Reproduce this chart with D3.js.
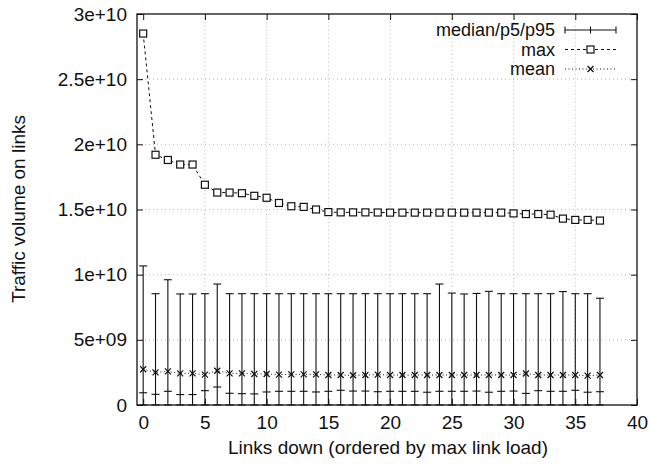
<!DOCTYPE html>
<html><head><meta charset="utf-8">
<script src="https://cdn.jsdelivr.net/npm/d3@7"></script>
<style>
html,body{margin:0;padding:0;background:#fff;}
text{font-family:"Liberation Sans",Arial,Helvetica,sans-serif;fill:#111;}
</style></head>
<body>
<svg id="chart" width="650" height="464"></svg>
<script>
const links = d3.range(0, 38);
const maxLoad = [2.85,1.92,1.88,1.845,1.845,1.69,1.63,1.63,1.625,1.605,1.59,1.55,1.525,1.52,1.50,1.48,1.478,1.478,1.478,1.477,
  1.476,1.476,1.476,1.476,1.476,1.476,1.476,1.476,1.476,1.476,1.47,1.465,1.465,1.46,1.43,1.42,1.42,1.415].map(v=>v*1e10);
const meanLoad = [2.74,2.5,2.58,2.43,2.43,2.33,2.63,2.43,2.43,2.38,2.38,2.33,2.35,2.35,2.35,2.3,2.3,2.28,2.3,2.33,
  2.3,2.3,2.3,2.3,2.3,2.3,2.3,2.3,2.3,2.3,2.3,2.42,2.3,2.3,2.3,2.3,2.25,2.3].map(v=>v*1e9);
const p95Load = [10.67,8.54,9.61,8.52,8.52,8.54,9.28,8.54,8.54,8.54,8.54,8.54,8.54,8.54,8.54,8.54,8.54,8.54,8.54,8.54,
  8.54,8.54,8.54,8.54,9.28,8.59,8.52,8.56,8.72,8.54,8.54,8.54,8.54,8.54,8.7,8.54,8.54,8.19].map(v=>v*1e9);
const medianLoad = [0.94,0.82,1.05,0.8,0.8,1.1,1.38,0.9,0.87,0.85,1.0,1.05,1.05,1.05,1.0,1.05,1.13,1.07,1.07,1.02,
  1.05,1.05,1.05,0.98,1.05,1.05,1.05,1.07,0.98,1.05,1.07,0.89,1.1,1.05,1.05,1.13,0.98,1.02].map(v=>v*1e9);
const p5Load = links.map(()=>0);
const xTicks = [0,5,10,15,20,25,30,35,40];
const yTicks = [0,5e9,1e10,1.5e10,2e10,2.5e10,3e10];
const yTickLabels = ["0","5e+09","1e+10","1.5e+10","2e+10","2.5e+10","3e+10"];
const legendLabels = ["median/p5/p95","max","mean"];
const xTitle = "Links down (ordered by max link load)";
const yTitle = "Traffic volume on links";

const L=137, R=637, T=14, B=405;
const svg = d3.select("#chart");
const x = d3.scaleLinear().domain([-0.5,40]).range([L,R]);
const y = d3.scaleLinear().domain([0,3e10]).range([B,T]);

// grid
const grid = svg.append("g").attr("stroke","#999").attr("stroke-width",0.7).attr("stroke-dasharray","1,3");
grid.selectAll(".gx").data(xTicks.filter(t=>t>0&&t<40)).join("line")
  .attr("x1",d=>x(d)).attr("x2",d=>x(d)).attr("y1",T).attr("y2",B);
grid.selectAll(".gy").data(yTicks.filter(t=>t>0&&t<3e10)).join("line")
  .attr("y1",d=>y(d)).attr("y2",d=>y(d)).attr("x1",L).attr("x2",R);

// axes (ticks inward, mirrored)
const fs = 19;
const axB = svg.append("g").attr("transform",`translate(0,${B})`)
  .call(d3.axisBottom(x).tickValues(xTicks).tickSizeInner(-6).tickSizeOuter(0).tickPadding(11));
const axT = svg.append("g").attr("transform",`translate(0,${T})`)
  .call(d3.axisTop(x).tickValues(xTicks).tickSizeInner(-6).tickSizeOuter(0).tickFormat(""));
const axL = svg.append("g").attr("transform",`translate(${L},0)`)
  .call(d3.axisLeft(y).tickValues(yTicks).tickSizeInner(-6).tickSizeOuter(0).tickPadding(10)
    .tickFormat((d,i)=>yTickLabels[i]));
const axR = svg.append("g").attr("transform",`translate(${R},0)`)
  .call(d3.axisRight(y).tickValues(yTicks).tickSizeInner(-6).tickSizeOuter(0).tickFormat(""));
[axB,axT,axL,axR].forEach(a=>{
  a.select(".domain").remove();
  a.selectAll("line").attr("stroke","#111").attr("stroke-width",1);
  a.selectAll("text").attr("font-size",fs).attr("font-family","Liberation Sans, Arial, sans-serif").attr("fill","#111");
});
axB.selectAll("text").attr("dy","0.71em");
svg.append("rect").attr("x",L).attr("y",T).attr("width",R-L).attr("height",B-T)
  .attr("fill","none").attr("stroke","#111").attr("stroke-width",1.3);

// error bars
const cap = 4;
const eb = svg.append("g").attr("stroke","#111").attr("stroke-width",1.1);
links.forEach((d,i)=>{
  const cx = x(d);
  eb.append("line").attr("x1",cx).attr("x2",cx).attr("y1",y(p5Load[i])).attr("y2",y(p95Load[i]));
  eb.append("line").attr("x1",cx-cap).attr("x2",cx+cap).attr("y1",y(p95Load[i])).attr("y2",y(p95Load[i]));
  eb.append("line").attr("x1",cx-cap).attr("x2",cx+cap).attr("y1",y(p5Load[i])).attr("y2",y(p5Load[i]));
  eb.append("line").attr("x1",cx-cap).attr("x2",cx+cap).attr("y1",y(medianLoad[i])).attr("y2",y(medianLoad[i]));
});

// max line
const line = d3.line().x((d,i)=>x(links[i])).y(d=>y(d));
svg.append("path").datum(maxLoad).attr("d",line).attr("fill","none")
  .attr("stroke","#111").attr("stroke-width",1).attr("stroke-dasharray","3,3");
svg.append("g").selectAll("rect").data(maxLoad).join("rect")
  .attr("x",(d,i)=>x(links[i])-3.5).attr("y",d=>y(d)-3.5).attr("width",7).attr("height",7)
  .attr("fill","#fff").attr("stroke","#111").attr("stroke-width",1.2);

// mean line
svg.append("path").datum(meanLoad).attr("d",line).attr("fill","none")
  .attr("stroke","#111").attr("stroke-width",1).attr("stroke-dasharray","1,2.5");
const xm = svg.append("g").attr("stroke","#111").attr("stroke-width",1.2);
meanLoad.forEach((d,i)=>{
  const cx=x(links[i]), cy=y(d), s=3;
  xm.append("line").attr("x1",cx-s).attr("x2",cx+s).attr("y1",cy-s).attr("y2",cy+s);
  xm.append("line").attr("x1",cx-s).attr("x2",cx+s).attr("y1",cy+s).attr("y2",cy-s);
});

// legend
const lfs = 18;
const lg = svg.append("g");
const ly = [30,49.5,69], lx1=565, lx2=616, lmid=(lx1+lx2)/2;
legendLabels.forEach((t,i)=>{
  lg.append("text").attr("x",555).attr("y",ly[i]).attr("dy","0.35em").attr("text-anchor","end")
    .attr("font-size",lfs).text(t);
});
const lgs = lg.append("g").attr("stroke","#111").attr("stroke-width",1.1).attr("fill","none");
lgs.append("line").attr("x1",lx1).attr("x2",lx2).attr("y1",ly[0]).attr("y2",ly[0]).attr("stroke-width",1.2);
[lx1,lmid,lx2].forEach(px=>lgs.append("line").attr("x1",px).attr("x2",px).attr("y1",ly[0]-3.5).attr("y2",ly[0]+3.5));
lgs.append("line").attr("x1",lx1).attr("x2",lx2).attr("y1",ly[1]).attr("y2",ly[1]).attr("stroke-dasharray","3,3").attr("stroke-width",1);
lgs.append("rect").attr("x",lmid-3.5).attr("y",ly[1]-3.5).attr("width",7).attr("height",7).attr("fill","#fff").attr("stroke-width",1.2);
lgs.append("line").attr("x1",lx1).attr("x2",lx2).attr("y1",ly[2]).attr("y2",ly[2]).attr("stroke-dasharray","1,2.5").attr("stroke-width",1);
lgs.append("line").attr("x1",lmid-3).attr("x2",lmid+3).attr("y1",ly[2]-3).attr("y2",ly[2]+3).attr("stroke-width",1.2);
lgs.append("line").attr("x1",lmid-3).attr("x2",lmid+3).attr("y1",ly[2]+3).attr("y2",ly[2]-3).attr("stroke-width",1.2);

// titles
svg.append("text").attr("x",(L+R)/2+1).attr("y",447).attr("dy","0.35em").attr("text-anchor","middle")
  .attr("font-size",fs).text(xTitle);
svg.append("text").attr("transform","translate(18,209) rotate(-90)").attr("dy","0.35em")
  .attr("text-anchor","middle").attr("font-size",fs).text(yTitle);
</script>
</body></html>
